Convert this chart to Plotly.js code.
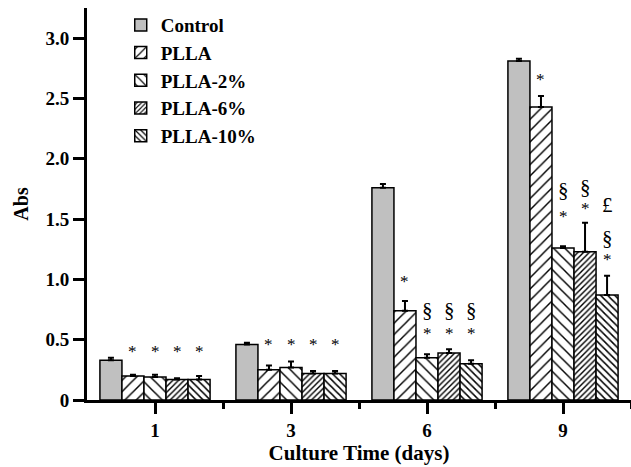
<!DOCTYPE html>
<html>
<head>
<meta charset="utf-8">
<script src="https://cdn.plot.ly/plotly-3.0.1.min.js"></script>
<style>html,body{margin:0;padding:0;background:#fff}#chart{width:631px;height:467px}</style>
</head>
<body>
<div id="chart"></div>
<script>
// Categories (culture time, days)
const days = ['1', '3', '6', '9'];
// Series names
const seriesNames = ['Control', 'PLLA', 'PLLA-2%', 'PLLA-6%', 'PLLA-10%'];
// Mean absorbance values per series (one per day)
const control  = [0.33, 0.46, 1.76, 2.81];
const plla     = [0.20, 0.25, 0.74, 2.43];
const plla2    = [0.19, 0.27, 0.35, 1.26];
const plla6    = [0.17, 0.22, 0.39, 1.23];
const plla10   = [0.17, 0.22, 0.30, 0.87];
// Upper error bar sizes
const controlErr = [0.02, 0.015, 0.03, 0.02];
const pllaErr    = [0.01, 0.035, 0.08, 0.09];
const plla2Err   = [0.02, 0.05, 0.03, 0.015];
const plla6Err   = [0.01, 0.02, 0.03, 0.24];
const plla10Err  = [0.03, 0.02, 0.03, 0.16];
// Significance marks: day index, series index, symbol, y value
const sigDay    = [0,0,0,0, 1,1,1,1, 2, 2,2, 2,2, 2,2, 3, 3,3, 3,3, 3,3,3];
const sigSeries = [1,2,3,4, 1,2,3,4, 1, 2,2, 3,3, 4,4, 1, 2,2, 3,3, 4,4,4];
const sigText   = ['*','*','*','*', '*','*','*','*', '*', '*','§', '*','§', '*','§', '*', '*','§', '*','§', '*','§','£'];
const sigY      = [0.40,0.40,0.40,0.40, 0.46,0.46,0.46,0.46, 0.98, 0.555,0.75, 0.555,0.75, 0.555,0.75, 2.66, 1.52,1.74, 1.59,1.77, 1.165,1.34,1.62];

const values = [control, plla, plla2, plla6, plla10];
const errs = [controlErr, pllaErr, plla2Err, plla6Err, plla10Err];
const patterns = [
  null,
  {shape: '/', size: 8, solidity: 0.18, fgcolor: '#000', bgcolor: '#fff', fillmode: 'replace'},
  {shape: '\\', size: 8, solidity: 0.18, fgcolor: '#000', bgcolor: '#fff', fillmode: 'replace'},
  {shape: '/', size: 4, solidity: 0.35, fgcolor: '#000', bgcolor: '#fff', fillmode: 'replace'},
  {shape: '\\', size: 5, solidity: 0.3, fgcolor: '#000', bgcolor: '#fff', fillmode: 'replace'}
];
const xIdx = days.map((d, i) => i);
const bargap = 0.19;
const barW = (1 - bargap) / seriesNames.length;

const traces = seriesNames.map((name, s) => {
  const marker = {color: s === 0 ? '#c0c0c0' : '#fff', line: {color: '#000', width: 1.5}};
  if (patterns[s]) marker.pattern = patterns[s];
  return {
    type: 'bar', name: name, x: xIdx, y: values[s],
    marker: marker,
    error_y: {type: 'data', symmetric: false, array: errs[s], arrayminus: errs[s].map(() => 0),
              color: '#000', thickness: 2, width: 3},
    hoverinfo: 'x+y'
  };
});

const font = 'Liberation Serif';
const annotations = sigText.map((t, k) => ({
  x: sigDay[k] + (sigSeries[k] - (seriesNames.length - 1) / 2) * barW,
  y: sigY[k], xref: 'x', yref: 'y', text: t, showarrow: false,
  font: {family: font, size: t === '*' ? 17 : 21, color: '#000'}
}));

const layout = {
  width: 631, height: 467,
  margin: {l: 87, r: 0, t: 8, b: 67},
  paper_bgcolor: '#fff', plot_bgcolor: '#fff',
  barmode: 'group', bargap: bargap, bargroupgap: 0,
  font: {family: font, color: '#000'},
  showlegend: true,
  legend: {x: 0.062, y: 1.005, xanchor: 'left', yanchor: 'top', bgcolor: 'rgba(0,0,0,0)',
           font: {family: font, size: 19, color: '#000', weight: 'bold'}, tracegroupgap: 0},
  xaxis: {
    type: 'linear', range: [-0.5, 3.5], tickvals: xIdx, ticktext: days,
    showgrid: false, zeroline: false, showline: true, linecolor: '#000', linewidth: 3,
    ticks: 'outside', ticklen: 11, tickwidth: 3, tickcolor: '#000',
    minor: {tickvals: [0.5, 1.5, 2.5, 3.5], ticks: 'outside', ticklen: 6, tickwidth: 3, tickcolor: '#000', showgrid: false},
    tickfont: {family: font, size: 19, color: '#000', weight: 'bold'},
    title: {text: 'Culture Time (days)', font: {family: font, size: 21, color: '#000', weight: 'bold'}, standoff: 6}
  },
  yaxis: {
    range: [0, 3.25], tickvals: [0, 0.5, 1.0, 1.5, 2.0, 2.5, 3.0],
    ticktext: ['0', '0.5', '1.0', '1.5', '2.0', '2.5', '3.0'],
    showgrid: false, zeroline: false, showline: true, linecolor: '#000', linewidth: 3,
    ticks: 'outside', ticklen: 11, tickwidth: 3, tickcolor: '#000',
    tickfont: {family: font, size: 19, color: '#000', weight: 'bold'},
    title: {text: 'Abs', font: {family: font, size: 20, color: '#000', weight: 'bold'}, standoff: 12}
  },
  annotations: annotations
};

Plotly.newPlot('chart', traces, layout, {displayModeBar: false, staticPlot: true});
</script>
</body>
</html>
